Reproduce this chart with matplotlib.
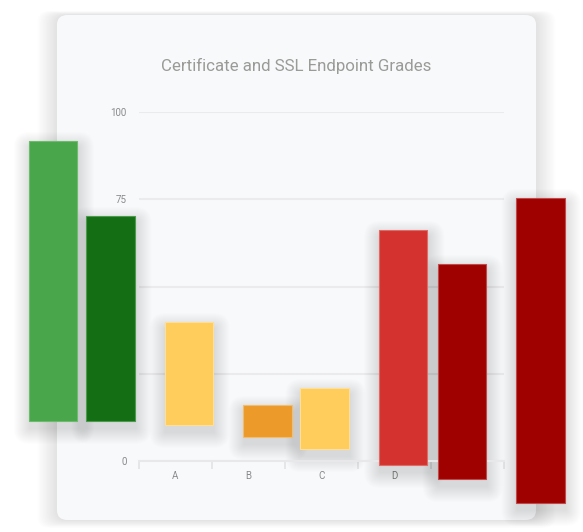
import matplotlib
matplotlib.use("Agg")
import matplotlib.pyplot as plt
from matplotlib.patches import FancyBboxPatch

plt.rcParams['font.family'] = ['Roboto', 'DejaVu Sans']

# ---- data ----
title = "Certificate and SSL Endpoint Grades"
grades = ['A', 'B', 'C', 'D', 'F']
y_ticks = [0, 25, 50, 75, 100]
bar_pos = [-1.68, -0.89, 0.18, 1.26, 2.04, 3.12, 3.92, 5.0]
bar_top = [91.7, 70.2, 39.8, 16.0, 20.9, 66.2, 56.4, 75.4]
bar_bottom = [11.5, 11.5, 10.3, 6.9, 3.4, -1.1, -5.2, -12.0]
bar_colors = ['#4aa64a', '#146f14', '#fecd5c', '#ec9b2b', '#fecd5c',
              '#d3322f', '#9f0000', '#9f0000']
bar_edges = ['#6dbb6d', '#4d9a4d', '#fddf99', '#f3bd6e', '#fddf99',
             '#e06a66', '#c04a4a', '#c04a4a']

W, H = 583, 532
fig = plt.figure(figsize=(W / 100, H / 100), dpi=100)
fig.patch.set_facecolor('white')


def fx(x):
    return x / W


def fy(y):
    return 1 - y / H


# card shadow
cx0, cy0, cx1, cy1 = 57, 15, 536, 520
for k in range(14, 0, -1):
    p = k * 1.4
    sh = FancyBboxPatch((fx(cx0 - p), fy(cy1 + p * 0.4)),
                        fx(cx1 - cx0 + 2 * p), (cy1 - cy0 + 0.6 * p) / H,
                        boxstyle="round,pad=0,rounding_size=0.02",
                        transform=fig.transFigure, facecolor='black',
                        edgecolor='none', alpha=0.008, zorder=-3)
    fig.patches.append(sh)
card = FancyBboxPatch((fx(cx0), fy(cy1)), fx(cx1 - cx0), (cy1 - cy0) / H,
                      boxstyle="round,pad=0,rounding_size=0.018",
                      transform=fig.transFigure, facecolor='#f8f9fb',
                      edgecolor='none', zorder=-2)
fig.patches.append(card)

fig.text(fx(296), fy(66), title, ha='center', va='center',
         fontsize=12.2, color='#9a9a96', zorder=-1)

# axes: x 139..504 px, y: 0 at 461, 100 at 112
ax = fig.add_axes([fx(139), fy(461), fx(504 - 139), (461 - 112) / H])
ax.set_zorder(1)
ax.patch.set_visible(False)
ax.set_xlim(-0.5, len(grades) - 0.5)
ax.set_ylim(0, 100)
ax.set_axisbelow(True)
for s in ['top', 'right', 'left']:
    ax.spines[s].set_visible(False)
ax.spines['bottom'].set_color('#e8e8ea')
ax.spines['bottom'].set_linewidth(1.5)

ax.set_yticks(y_ticks)
ax.set_yticklabels([str(v) for v in y_ticks])
ax.yaxis.grid(True, color='#ebebed', linewidth=1.5)
ax.tick_params(axis='y', length=0, pad=9, labelsize=7, labelcolor='#8a8a8a')

ax.set_xticks(range(len(grades)))
ax.set_xticklabels(grades)
ax.set_xticks([i - 0.5 for i in range(len(grades) + 1)], minor=True)
ax.tick_params(axis='x', which='major', length=0, pad=7, labelsize=7,
               labelcolor='#8a8a8a')
ax.tick_params(axis='x', which='minor', length=6, width=1.3, color='#e4e4e6',
               direction='out')

bw = 0.66
heights = [t - b for t, b in zip(bar_top, bar_bottom)]

# soft diffuse shadows with rounded corners (px -> data units)
pxx = 1.0 / 73.0
pxy = 100.0 / 349.0
for p, b, h in zip(bar_pos, bar_bottom, heights):
    for k in range(1, 17):
        x0 = p - bw / 2 + 1 * pxx - k * pxx
        y0 = b - 7 * pxy - k * pxy
        sh = FancyBboxPatch((x0, y0), bw + 2 * k * pxx, h + 2 * k * pxy,
                            boxstyle=f"round,pad=0,rounding_size={k * pxx}",
                            mutation_aspect=pxy / pxx,
                            facecolor='black', edgecolor='none',
                            alpha=0.008, clip_on=False, zorder=2)
        ax.add_patch(sh)

ax.bar(bar_pos, heights, bottom=bar_bottom, width=bw, color=bar_colors,
       edgecolor=bar_edges, linewidth=0.8, clip_on=False, zorder=3)

fig.savefig('out.png', dpi=100, facecolor='white')
